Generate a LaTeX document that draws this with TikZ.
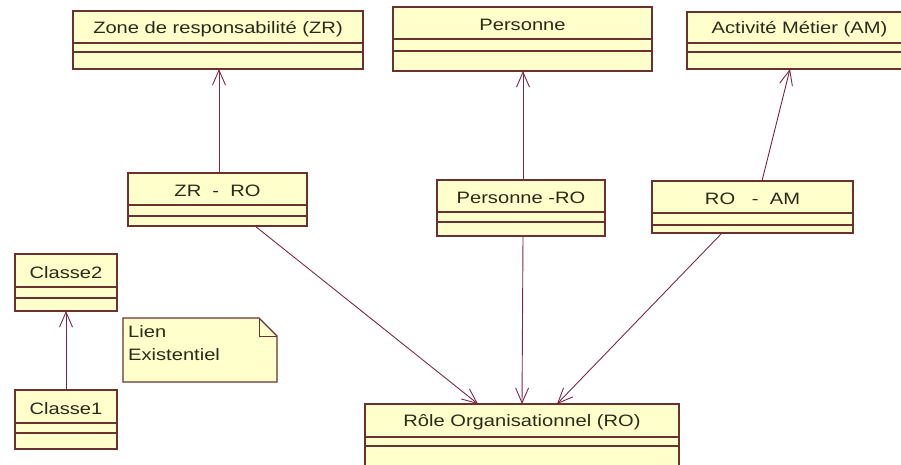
\documentclass[tikz,border=0pt]{standalone}
\usepackage{fontspec}
\setmainfont{Liberation Sans}[FakeStretch=1.22]
\usetikzlibrary{arrows.meta,calc}

\definecolor{boxfill}{HTML}{FFFFCC}
\definecolor{boxline}{HTML}{6B3030}
\definecolor{linkcol}{HTML}{7A2848}
\definecolor{txtcol}{HTML}{2A2A1A}

\tikzset{
  classbox/.style={draw=boxline, fill=boxfill, line width=1.3pt, rectangle,
    inner sep=0pt, outer sep=0pt, anchor=north west},
  classrule/.style={draw=boxline, line width=1.3pt},
  classname/.style={text=txtcol, inner sep=0pt,
    font=\fontsize{16.5}{19}\selectfont},
  notetext/.style={text=txtcol, inner sep=0pt, anchor=north west, align=left,
    font=\fontsize{16.5}{23}\selectfont},
  link/.style={draw=linkcol, line width=0.9pt,
    -{Straight Barb[length=15pt,width=13pt]}},
}

% #1 name, #2 left, #3 top, #4 right, #5 bottom, #6 first rule, #7 second rule, #8 title
\newcommand\umlclass[8]{%
  \node[classbox, minimum width={(#4-#2)*1pt}, minimum height={(#5-#3)*1pt}]
    (#1) at (#2,#3) {};
  \draw[classrule] (#2,#6) -- (#4,#6) (#2,#7) -- (#4,#7);
  \node[classname] (#1-title) at ({(#2+#4)/2},{(#3+#6)/2+2}) {#8};
}

\begin{document}
\begin{tikzpicture}[x=1pt,y=-1pt]
  \useasboundingbox (0,0) rectangle (901,465);
  \clip (0,0) rectangle (901,465);

  % top row
  \umlclass{zr}{73}{11}{363}{69}{43}{52}{Zone de responsabilité (ZR)}
  \umlclass{pers}{393}{7}{652}{71}{39}{51}{Personne}
  \umlclass{am}{687}{12}{912}{69}{43}{52}{Activité Métier (AM)}

  % association classes
  \umlclass{zrro}{128}{173}{307}{226}{205}{216}{ZR \ - \ RO}
  \umlclass{persro}{437}{180}{605}{236}{212}{222}{Personne -RO}
  \umlclass{roam}{652}{181}{853}{233}{213}{225}{RO \ \ - \ AM}

  % organisational role, running off the bottom edge
  \umlclass{ro}{365}{404}{679}{480}{437}{446}{Rôle Organisationnel (RO)}

  % legend
  \umlclass{cl2}{15}{254}{117}{311}{287}{298}{Classe2}
  \umlclass{cl1}{15}{390}{117}{449}{423}{433}{Classe1}

  \path[fill=boxfill, draw=boxline, line width=1.3pt]
    (123,318) -- (259,318) -- (277,336) -- (277,382) -- (123,382) -- cycle;
  \draw[boxline, line width=1pt] (259,318) -- (259,336) -- (277,336);
  \node[notetext] (note) at (128,325) {Lien\\Existentiel};

  % links
  \draw[link] ([xshift=1.5pt]zrro.north) -- ([xshift=1.5pt]zrro.north |- zr.south);
  \draw[link] ([xshift=2pt]persro.north) -- ([xshift=2pt]persro.north |- pers.south);
  \draw[link] ([xshift=9.5pt]roam.north) -- ([xshift=-9.5pt]am.south);

  \draw[link] ([xshift=37.5pt]zrro.south) -- ([xshift=-44pt]ro.north);
  \draw[link] ([xshift=2pt]persro.south) -- (ro.north);
  \draw[link] ([xshift=-30.5pt]roam.south) -- ([xshift=35pt]ro.north);

  \draw[link] (cl1.north) -- (cl2.south);
\end{tikzpicture}
\end{document}
